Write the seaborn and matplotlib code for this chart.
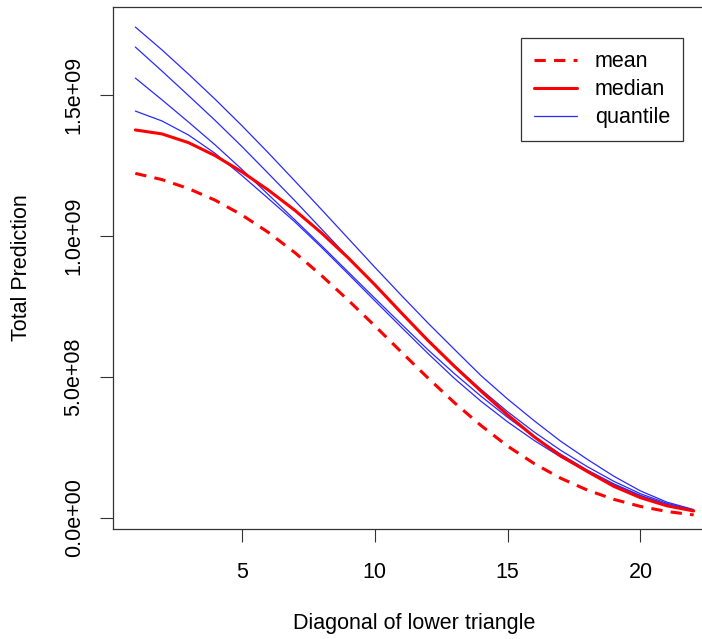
import matplotlib
matplotlib.use("Agg")
import matplotlib.pyplot as plt
import seaborn as sns
import numpy as np

# diagonal index of the lower triangle
diagonal = list(range(1, 23))

# predictions (in units of 1e9)
mean_pred = [1.222, 1.200, 1.168, 1.127, 1.075, 1.013, 0.941, 0.860, 0.773, 0.682, 0.589,
             0.497, 0.409, 0.328, 0.255, 0.193, 0.141, 0.099, 0.066, 0.041, 0.023, 0.011]
median_pred = [1.376, 1.362, 1.331, 1.285, 1.228, 1.163, 1.091, 1.011, 0.923, 0.828, 0.728,
               0.630, 0.538, 0.450, 0.366, 0.288, 0.220, 0.165, 0.112, 0.072, 0.043, 0.025]
quantile_1 = [1.741, 1.660, 1.574, 1.485, 1.392, 1.295, 1.195, 1.094, 0.992, 0.890, 0.790,
              0.692, 0.598, 0.505, 0.422, 0.345, 0.272, 0.208, 0.148, 0.096, 0.056, 0.030]
quantile_2 = [1.670, 1.585, 1.498, 1.410, 1.318, 1.222, 1.125, 1.025, 0.925, 0.826, 0.728,
              0.633, 0.541, 0.456, 0.377, 0.305, 0.240, 0.182, 0.130, 0.086, 0.052, 0.028]
quantile_3 = [1.560, 1.483, 1.404, 1.323, 1.237, 1.147, 1.057, 0.966, 0.873, 0.780, 0.688,
              0.597, 0.512, 0.432, 0.357, 0.288, 0.226, 0.170, 0.121, 0.080, 0.048, 0.026]
quantile_4 = [1.443, 1.408, 1.358, 1.293, 1.215, 1.133, 1.050, 0.960, 0.866, 0.771, 0.677,
              0.584, 0.495, 0.414, 0.341, 0.275, 0.216, 0.164, 0.118, 0.079, 0.047, 0.025]
quantiles = [quantile_1, quantile_2, quantile_3, quantile_4]

y_ticks = [0.0, 5e8, 1e9, 1.5e9]
y_tick_labels = ["0.0e+00", "5.0e+08", "1.0e+09", "1.5e+09"]
x_ticks = [5, 10, 15, 20]

FS = 15.5

sns.set_style("white")
plt.rcParams["font.family"] = ["Liberation Sans", "DejaVu Sans"]
plt.rcParams["text.color"] = "black"
plt.rcParams["axes.labelcolor"] = "black"
plt.rcParams["xtick.color"] = "black"
plt.rcParams["ytick.color"] = "black"

fig = plt.figure(figsize=(7.02, 6.39), dpi=100)
ax = fig.add_axes([113 / 702, 110 / 639, 603 / 702, 522 / 639])

x = np.array(diagonal)
for i, q in enumerate(quantiles):
    sns.lineplot(x=x, y=np.array(q) * 1e9, ax=ax, color="#2a2aff", lw=0.9,
                 label="quantile" if i == 0 else None, legend=False)
sns.lineplot(x=x, y=np.array(median_pred) * 1e9, ax=ax, color="red", lw=2.2,
             label="median", legend=False)
sns.lineplot(x=x, y=np.array(mean_pred) * 1e9, ax=ax, color="red", lw=2.2,
             linestyle=(0, (3.7, 2.7)), label="mean", legend=False)

ax.set_xlim(0.16, 22.84)
ax.set_ylim(-0.039e9, 1.812e9)
ax.set_xticks(x_ticks)
ax.set_yticks(y_ticks)
ax.set_yticklabels(y_tick_labels, rotation=90, va="center")
ax.tick_params(axis="both", length=9.4, width=0.8, color="#333333", labelsize=FS,
               direction="out", left=True, bottom=True)
ax.tick_params(axis="x", pad=14)
ax.tick_params(axis="y", pad=11)

for sp in ax.spines.values():
    sp.set_color("#333333")
    sp.set_linewidth(0.9)

ax.set_xlabel("Diagonal of lower triangle", fontsize=FS, va="center")
ax.set_ylabel("Total Prediction", fontsize=FS, va="center")
ax.xaxis.set_label_coords(0.5, -(623 - 529) / 522)
ax.yaxis.set_label_coords((22 - 113) / 603, 0.5)

# legend in order mean, median, quantile
handles, labels = ax.get_legend_handles_labels()
order = [labels.index(l) for l in ["mean", "median", "quantile"]]
leg = ax.legend([handles[i] for i in order], [labels[i] for i in order],
                loc="upper left", bbox_to_anchor=(521 / 702, 1 - 38 / 639),
                bbox_transform=fig.transFigure, fontsize=FS, frameon=True,
                fancybox=False, edgecolor="#333333", framealpha=1,
                handlelength=2.0, handletextpad=0.8, labelspacing=0.32,
                borderpad=0.62, borderaxespad=0)
leg.get_frame().set_linewidth(0.9)

fig.savefig("out.png", dpi=100)
